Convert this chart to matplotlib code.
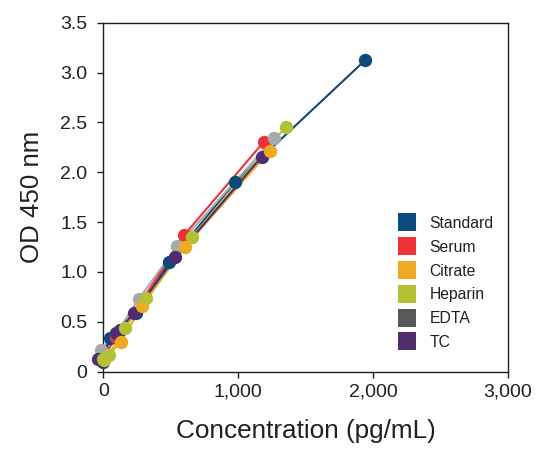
import matplotlib
matplotlib.use("Agg")
import matplotlib.pyplot as plt
from matplotlib.lines import Line2D

plt.rcParams['font.family'] = ['Liberation Sans', 'DejaVu Sans']

# sample series
std_x = [0, 47, 120, 245, 486, 977, 1942]
std_y = [0.10, 0.338, 0.42, 0.59, 1.096, 1.90, 3.125]

serum_x = [0, 96, 290, 597, 1190]
serum_y = [0.15, 0.344, 0.72, 1.367, 2.306]

citrate_x = [8, 131, 286, 605, 1235]
citrate_y = [0.117, 0.30, 0.658, 1.253, 2.216]

heparin_x = [0, 40, 158, 319, 656, 1352]
heparin_y = [0.124, 0.17, 0.435, 0.742, 1.35, 2.456]

edta_x = [-15, 96, 261, 549, 1266]
edta_y = [0.22, 0.384, 0.725, 1.263, 2.34]

tc_x = [-40, 94, 225, 534, 1175]
tc_y = [0.13, 0.39, 0.585, 1.146, 2.156]

names = ['Standard', 'Serum', 'Citrate', 'Heparin', 'EDTA', 'TC']
line_cols = ['#0b4a7a', '#ee3338', '#f0aa22', '#b5c034', '#a7a9ac', '#4f2d6e']
legend_cols = ['#0b4a7a', '#ee3338', '#f0aa22', '#b5c034', '#58595b', '#4f2d6e']

series = [(std_x, std_y), (serum_x, serum_y), (citrate_x, citrate_y),
          (heparin_x, heparin_y), (edta_x, edta_y), (tc_x, tc_y)]
zorders = [3, 4, 7, 8, 5, 6]

fig = plt.figure(figsize=(5.37, 4.49), dpi=100)
ax = fig.add_axes([0.1924, 0.1722, 0.7536, 0.7772])

# lines underneath, dots on top
for (xs, ys), c in zip(series, line_cols):
    ax.plot(xs, ys, '-', color=c, lw=1.5, zorder=2, clip_on=False)
for (xs, ys), c, z in zip(series, line_cols, zorders):
    ax.plot(xs, ys, 'o', ls='none', color=c, ms=9.6, mew=0, zorder=z,
            clip_on=False)

ax.set_xlim(0, 3000)
ax.set_ylim(0, 3.5)
ax.set_xticks([0, 1000, 2000, 3000])
ax.set_xticklabels(['0', '1,000', '2,000', '3,000'])
ax.set_yticks([0, 0.5, 1.0, 1.5, 2.0, 2.5, 3.0, 3.5])
ax.set_yticklabels(['0', '0.5', '1.0', '1.5', '2.0', '2.5', '3.0', '3.5'])

txt = '#231f20'
ax.tick_params(axis='both', direction='out', length=4.5, width=1, colors=txt,
               labelsize=14)
ax.tick_params(axis='y', pad=7)
ax.tick_params(axis='x', pad=4)
for s in ax.spines.values():
    s.set_linewidth(1)
    s.set_color(txt)

ax.set_xlabel('Concentration (pg/mL)', fontsize=18.8, color=txt, labelpad=13)
ax.set_ylabel('OD 450 nm', fontsize=18.6, color=txt, labelpad=12)

handles = [Line2D([], [], ls='none', marker='s', ms=12.5, mew=0, color=c)
           for c in legend_cols]
ax.legend(handles, names, loc='lower left', bbox_to_anchor=(0.692, 0.022),
          frameon=False, fontsize=11.3, labelspacing=0.56, handletextpad=0.85,
          handlelength=1.2, labelcolor=txt)

fig.savefig('out.png', dpi=100)
